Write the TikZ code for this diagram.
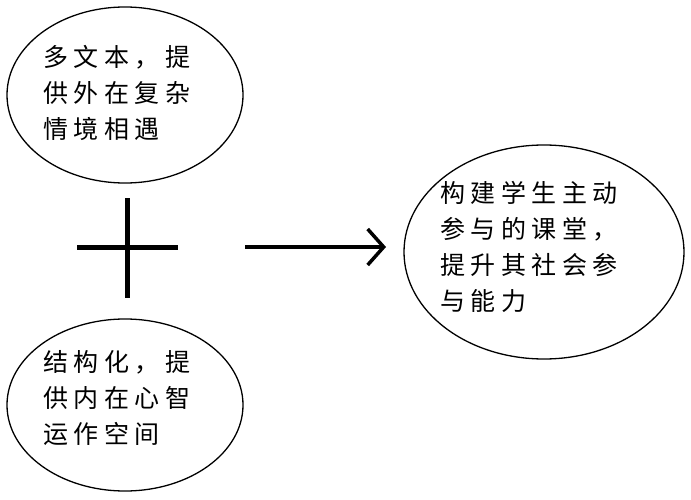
\documentclass[tikz,border=0pt]{standalone}
\usepackage{fontspec}
\newfontfamily\cjk[LetterSpace=22]{Noto Sans CJK SC}
\usetikzlibrary{arrows.meta}
\begin{document}
\begin{tikzpicture}[x=1pt,y=-1pt,
  txt/.style={font=\cjk\fontsize{25}{36}\selectfont,align=left,anchor=north west,inner sep=0pt}]
\useasboundingbox (0,0) rectangle (691,500);
\draw[line width=1.3pt] (125,95) ellipse [x radius=118,y radius=88];
\draw[line width=1.3pt] (125,405) ellipse [x radius=118,y radius=86];
\draw[line width=1.3pt] (544,252) ellipse [x radius=140,y radius=107];
\node[txt] (t1) at (43,45) {多文本，提\\供外在复杂\\情境相遇};
\node[txt] (t2) at (43,350) {结构化，提\\供内在心智\\运作空间};
\node[txt] (t3) at (440,181) {构建学生主动\\参与的课堂，\\提升其社会参\\与能力};
\coordinate (h1) at (77,247); \coordinate (h2) at (178,247);
\coordinate (v1) at (127,198); \coordinate (v2) at (127,298);
\draw[line width=5pt] (h1) -- (h2);
\draw[line width=5pt] (v1) -- (v2);
\coordinate (a1) at (245,247); \coordinate (a2) at (386,247);
\draw[line width=3.5pt,-{Straight Barb[length=16pt,width=36pt,line width=3.5pt]}] (a1) -- (a2);
\end{tikzpicture}
\end{document}
